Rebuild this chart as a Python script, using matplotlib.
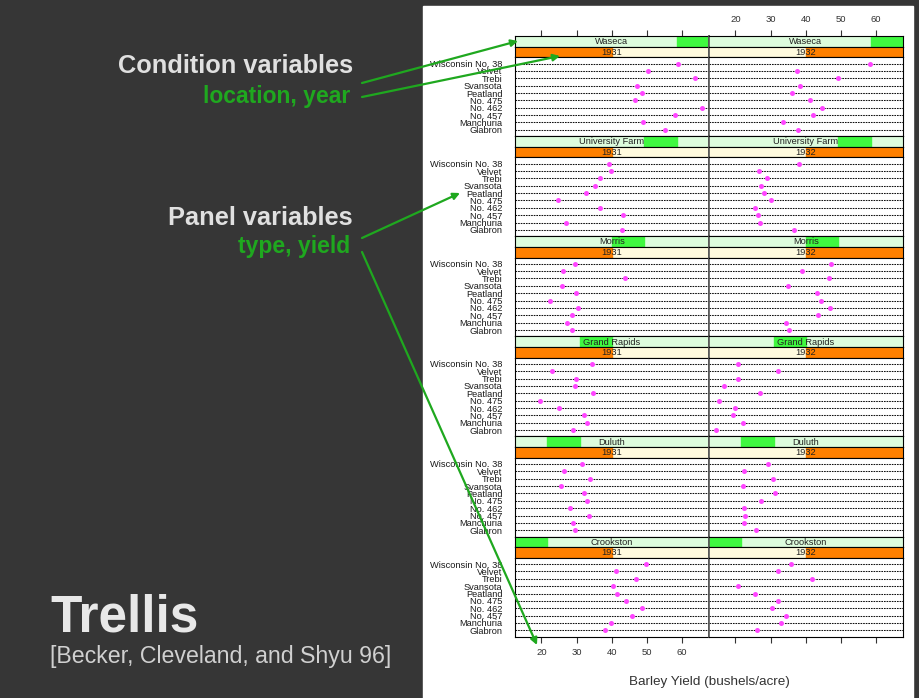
import matplotlib
matplotlib.use("Agg")
import matplotlib.pyplot as plt
from matplotlib.patches import Rectangle

plt.rcParams['font.family'] = ['Liberation Sans', 'DejaVu Sans']

# barley yields, one row per site, varieties in the order below
varieties = ["Wisconsin No. 38", "Velvet", "Trebi", "Svansota", "Peatland",
             "No. 475", "No. 462", "No. 457", "Manchuria", "Glabron"]
sites = ["Waseca", "University Farm", "Morris", "Grand Rapids", "Duluth", "Crookston"]
years = ["1931", "1932"]

yield_1931 = [
    [58.80, 50.23, 63.83, 47.33, 48.57, 46.77, 65.77, 58.10, 48.87, 55.20],
    [39.30, 39.90, 36.57, 35.13, 32.77, 24.67, 36.60, 43.27, 27.00, 43.07],
    [29.47, 26.13, 43.77, 25.77, 29.87, 22.60, 30.37, 28.70, 27.43, 28.77],
    [34.47, 23.03, 29.77, 29.67, 34.70, 19.70, 24.93, 32.17, 32.97, 29.13],
    [31.60, 26.30, 33.93, 25.70, 32.00, 33.07, 28.10, 33.60, 28.97, 29.67],
    [49.87, 41.33, 46.93, 40.47, 41.60, 44.10, 48.57, 45.67, 39.93, 38.13],
]
yield_1932 = [
    [58.17, 37.40, 49.23, 38.50, 36.03, 41.27, 44.70, 42.20, 33.47, 37.73],
    [38.00, 26.80, 29.07, 27.43, 28.10, 30.00, 25.57, 26.43, 26.90, 36.80],
    [47.17, 38.83, 46.63, 35.03, 43.20, 44.23, 47.00, 43.53, 34.37, 35.13],
    [20.67, 32.23, 20.63, 16.63, 26.90, 15.23, 19.90, 19.47, 22.13, 14.43],
    [29.33, 22.47, 30.60, 22.23, 31.40, 27.37, 22.50, 22.70, 22.57, 25.87],
    [35.90, 32.07, 41.83, 20.63, 25.70, 32.13, 30.53, 34.33, 32.97, 26.17],
]
xticks = [20, 30, 40, 50, 60]

W, H = 920, 698
fig = plt.figure(figsize=(W / 100, H / 100), dpi=100, facecolor='#363636')


def box(x, y, w, h):
    return [x / W, 1 - (y + h) / H, w / W, h / H]


bg = fig.add_axes([0, 0, 1, 1], zorder=-5)
bg.set_xlim(0, W)
bg.set_ylim(H, 0)
bg.axis('off')
bg.add_patch(Rectangle((423, 6), 490, 692, color='white'))

XMIN, XMAX = 12.5, 67.7
col_x = [515, 709]
PW = 194
top0, step = 36, 100.1
s1, s2 = 10.5, 10.8
dh = step - s1 - s2
data = [yield_1931, yield_1932]


def frame(ax, j):
    for side, sp in ax.spines.items():
        sp.set_color('black')
        sp.set_linewidth(0.8)
    inner = 'right' if j == 0 else 'left'
    ax.spines[inner].set_color('#555555')
    ax.spines[inner].set_linewidth(1.2)


for i, site in enumerate(sites):
    y0 = top0 + step * i
    lvl = len(sites) - 1 - i
    for j, yr in enumerate(years):
        x0 = col_x[j]
        # location strip
        a1 = fig.add_axes(box(x0, y0, PW, s1))
        a1.set_xlim(XMIN, XMAX)
        a1.set_ylim(0, 1)
        a1.set_facecolor('#ddfcdd')
        a1.add_patch(Rectangle((lvl / len(sites), 0), 1 / len(sites), 1,
                               transform=a1.transAxes, color='#40f840'))
        a1.text(0.5, 0.45, site, transform=a1.transAxes, ha='center', va='center',
                fontsize=6.7, color='#222222')
        a1.set_yticks([])
        if i == 0:
            a1.xaxis.set_ticks_position('top')
            a1.set_xticks(xticks)
            a1.tick_params(axis='x', direction='out', length=4, width=0.8,
                           colors='#333333', labelsize=6.8, pad=4.5,
                           labeltop=(j == 1), labelbottom=False)
        else:
            a1.set_xticks([])
        frame(a1, j)

        # year strip
        a2 = fig.add_axes(box(x0, y0 + s1, PW, s2))
        a2.set_xlim(0, 1)
        a2.set_ylim(0, 1)
        a2.set_facecolor('#fffade')
        a2.add_patch(Rectangle((j / len(years), 0), 1 / len(years), 1, color='#ff8000'))
        a2.text(0.5, 0.45, yr, ha='center', va='center', fontsize=6.7, color='#222222')
        a2.set_xticks([])
        a2.set_yticks([])
        frame(a2, j)

        # data panel
        ax = fig.add_axes(box(x0, y0 + s1 + s2, PW, dh))
        ax.set_xlim(XMIN, XMAX)
        ax.set_ylim(len(varieties) - 0.15, -0.85)
        rows = list(range(len(varieties)))
        for r in rows:
            ax.axhline(r, ls=(0, (1.6, 0.9)), color='#111111', lw=0.75, zorder=1)
        ax.plot(data[j][i], rows, 'o', color='#ff44ff', ms=3.6, mec='none', zorder=3)
        if j == 0:
            ax.set_yticks(rows)
            ax.set_yticklabels(varieties, fontsize=6.7, color='#1a1a1a')
            ax.tick_params(axis='y', length=0, pad=9)
        else:
            ax.set_yticks([])
        if i == len(sites) - 1:
            ax.set_xticks(xticks)
            ax.tick_params(axis='x', direction='out', length=4, width=0.8,
                           colors='#333333', labelsize=6.8, pad=4,
                           labelbottom=(j == 0))
        else:
            ax.set_xticks([])
        frame(ax, j)

ov = fig.add_axes([0, 0, 1, 1], zorder=10)
ov.set_xlim(0, W)
ov.set_ylim(H, 0)
ov.axis('off')
ov.patch.set_alpha(0)

ov.text(709, 682, "Barley Yield (bushels/acre)", ha='center', va='center',
        fontsize=9.7, color='#333333')

light = '#e0e0e0'
green = '#1fa81f'
ov.text(353, 73, "Condition variables", ha='right', va='baseline', fontsize=18.3,
        fontweight='bold', color=light)
ov.text(350, 103, "location, year", ha='right', va='baseline', fontsize=16.5,
        fontweight='bold', color=green)
ov.text(353, 225, "Panel variables", ha='right', va='baseline', fontsize=18.3,
        fontweight='bold', color=light)
ov.text(350, 253, "type, yield", ha='right', va='baseline', fontsize=16.5,
        fontweight='bold', color=green)
ov.text(50, 631, "Trellis", ha='left', va='baseline', fontsize=37,
        fontweight='bold', color='#e8e8e8')
ov.text(50, 663, "[Becker, Cleveland, and Shyu 96]", ha='left', va='baseline',
        fontsize=16.7, color='#d0d0d0')

arrows = [((362, 83), (518, 41)), ((362, 97), (560, 56)),
          ((362, 238), (460, 193)), ((362, 252), (537, 645))]
for start, end in arrows:
    ov.annotate('', xy=end, xytext=start,
                arrowprops=dict(arrowstyle='-|>', color=green, lw=1.6,
                                mutation_scale=10, shrinkA=0, shrinkB=0))

fig.savefig("out.png", dpi=100, facecolor=fig.get_facecolor())
